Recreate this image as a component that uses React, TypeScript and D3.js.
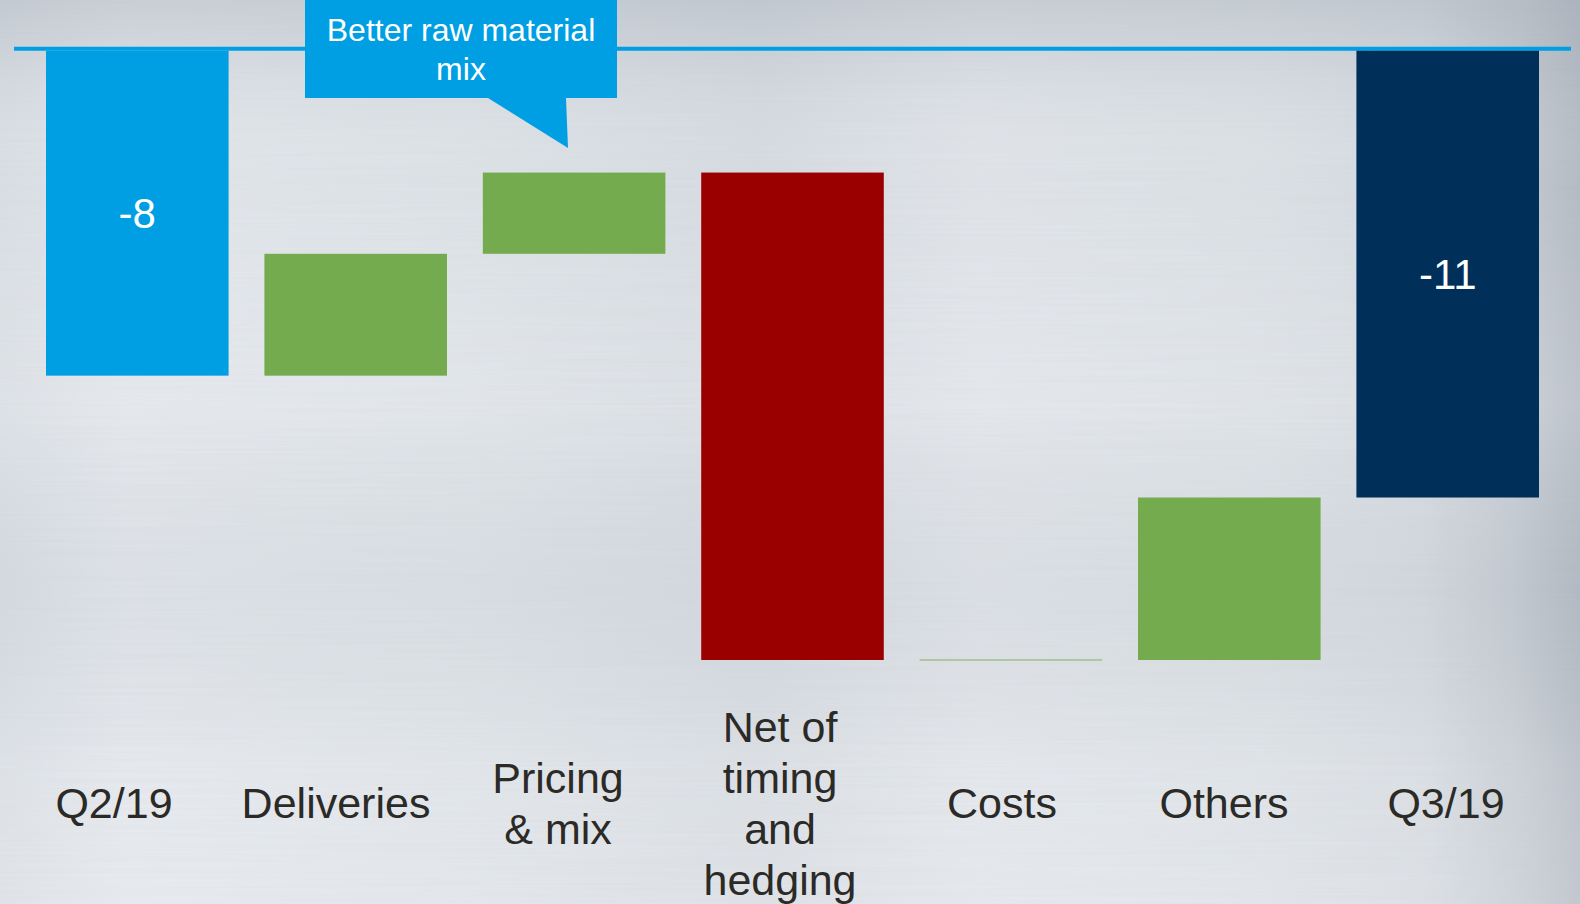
import React from "react";
import * as d3 from "d3";

const categories = ["Q2/19", "Deliveries", "Pricing & mix", "Net of timing and hedging", "Costs", "Others", "Q3/19"];
const labelLines = [["Q2/19"], ["Deliveries"], ["Pricing", "& mix"], ["Net of", "timing", "and", "hedging"], ["Costs"], ["Others"], ["Q3/19"]];
const values = [-8, 3, 2, -12, 0, 4, -11];
const kinds = ["start", "delta", "delta", "delta", "delta", "delta", "end"];
const valueLabels = ["-8", "", "", "", "", "", "-11"];
const calloutLines = ["Better raw material", "mix"];

const W = 1580;
const H = 904;
const FONT = "'Liberation Sans', Arial, Helvetica, sans-serif";

export default function App() {
  const x = d3.scaleBand<string>().domain(categories).range([46, 1539]).paddingInner(0.164).paddingOuter(0);
  const xl = d3.scalePoint<string>().domain(categories).range([114, 1446]);
  const y = d3.scaleLinear().domain([0, -15]).range([50.7, 660]);

  let running = 0;
  const bars = categories.map((c, i) => {
    let y0: number, y1: number;
    if (kinds[i] === "delta") {
      y0 = running;
      y1 = running + values[i];
      running = y1;
    } else {
      y0 = 0;
      y1 = values[i];
      running = values[i];
    }
    let fill = "#75AB4F";
    if (kinds[i] === "start") fill = "#009FE3";
    else if (kinds[i] === "end") fill = "#00305A";
    else if (values[i] < 0) fill = "#9B0000";
    return { c, i, y0, y1, fill };
  });

  const lineStep = 51;
  const labelBase = 818;

  const callout = d3.path();
  callout.moveTo(305, 0);
  callout.lineTo(617, 0);
  callout.lineTo(617, 98);
  callout.lineTo(566, 98);
  callout.lineTo(568, 148);
  callout.lineTo(488, 98);
  callout.lineTo(305, 98);
  callout.closePath();

  return (
    <svg width={W} height={H} style={{ position: "absolute", left: 0, top: 0, display: "block" }} fontFamily={FONT}>
      <defs>
        <linearGradient id="bgH" x1="0" y1="0" x2="1" y2="0">
          <stop offset="0" stopColor="#d9dee4" />
          <stop offset="0.08" stopColor="#e2e6eb" />
          <stop offset="0.3" stopColor="#dde2e7" />
          <stop offset="0.48" stopColor="#d6dbe1" />
          <stop offset="0.62" stopColor="#e0e4e9" />
          <stop offset="0.8" stopColor="#dbe0e5" />
          <stop offset="0.9" stopColor="#d5dae0" />
          <stop offset="0.96" stopColor="#c4cad1" />
          <stop offset="1" stopColor="#b3bac3" />
        </linearGradient>
        <linearGradient id="bgV" x1="0" y1="0" x2="0" y2="1">
          <stop offset="0" stopColor="#9aa3ad" stopOpacity="0.35" />
          <stop offset="0.08" stopColor="#9aa3ad" stopOpacity="0.12" />
          <stop offset="0.2" stopColor="#ffffff" stopOpacity="0" />
          <stop offset="0.45" stopColor="#ffffff" stopOpacity="0.15" />
          <stop offset="0.65" stopColor="#a0a8b2" stopOpacity="0.08" />
          <stop offset="0.85" stopColor="#ffffff" stopOpacity="0.15" />
          <stop offset="1" stopColor="#ffffff" stopOpacity="0.2" />
        </linearGradient>
        <filter id="brush" x="0" y="0" width="100%" height="100%">
          <feTurbulence type="fractalNoise" baseFrequency="0.004 0.35" numOctaves="2" seed="3" />
          <feColorMatrix type="matrix" values="0 0 0 0 0.55  0 0 0 0 0.58  0 0 0 0 0.62  0 0 0 0.18 -0.04" />
        </filter>
      </defs>
      <rect x={0} y={0} width={W} height={H} fill="url(#bgH)" />
      <rect x={0} y={0} width={W} height={H} fill="url(#bgV)" />
      <rect x={0} y={0} width={W} height={H} filter="url(#brush)" />

      <line x1={14} x2={1571} y1={48.7} y2={48.7} stroke="#009FE3" strokeWidth={4} />

      {bars.map((b) => {
        const top = Math.min(y(b.y0), y(b.y1));
        const h = Math.abs(y(b.y1) - y(b.y0));
        const zero = h < 1;
        return (
          <g key={b.c}>
            <rect
              x={x(b.c)}
              y={zero ? top - 1 : top}
              width={x.bandwidth()}
              height={zero ? 2 : h}
              fill={b.fill}
              fillOpacity={zero ? 0.45 : 1}
            />
            {valueLabels[b.i] && (
              <text
                x={(x(b.c) as number) + x.bandwidth() / 2}
                y={(y(b.y0) + y(b.y1)) / 2 + 15}
                textAnchor="middle"
                fill="#ffffff"
                fontSize={42}
              >
                {valueLabels[b.i]}
              </text>
            )}
          </g>
        );
      })}

      <path d={callout.toString()} fill="#009FE3" />
      {calloutLines.map((t, i) => (
        <text key={t} x={461} y={41 + i * 39} textAnchor="middle" fill="#ffffff" fontSize={32}>
          {t}
        </text>
      ))}

      {categories.map((c, i) => {
        const lines = labelLines[i];
        const n = lines.length;
        return (
          <text key={c} textAnchor="middle" fill="#2b2a26" fontSize={43}>
            {lines.map((l, j) => (
              <tspan key={j} x={xl(c)} y={labelBase + (j - (n - 1) / 2) * lineStep}>
                {l}
              </tspan>
            ))}
          </text>
        );
      })}
    </svg>
  );
}
